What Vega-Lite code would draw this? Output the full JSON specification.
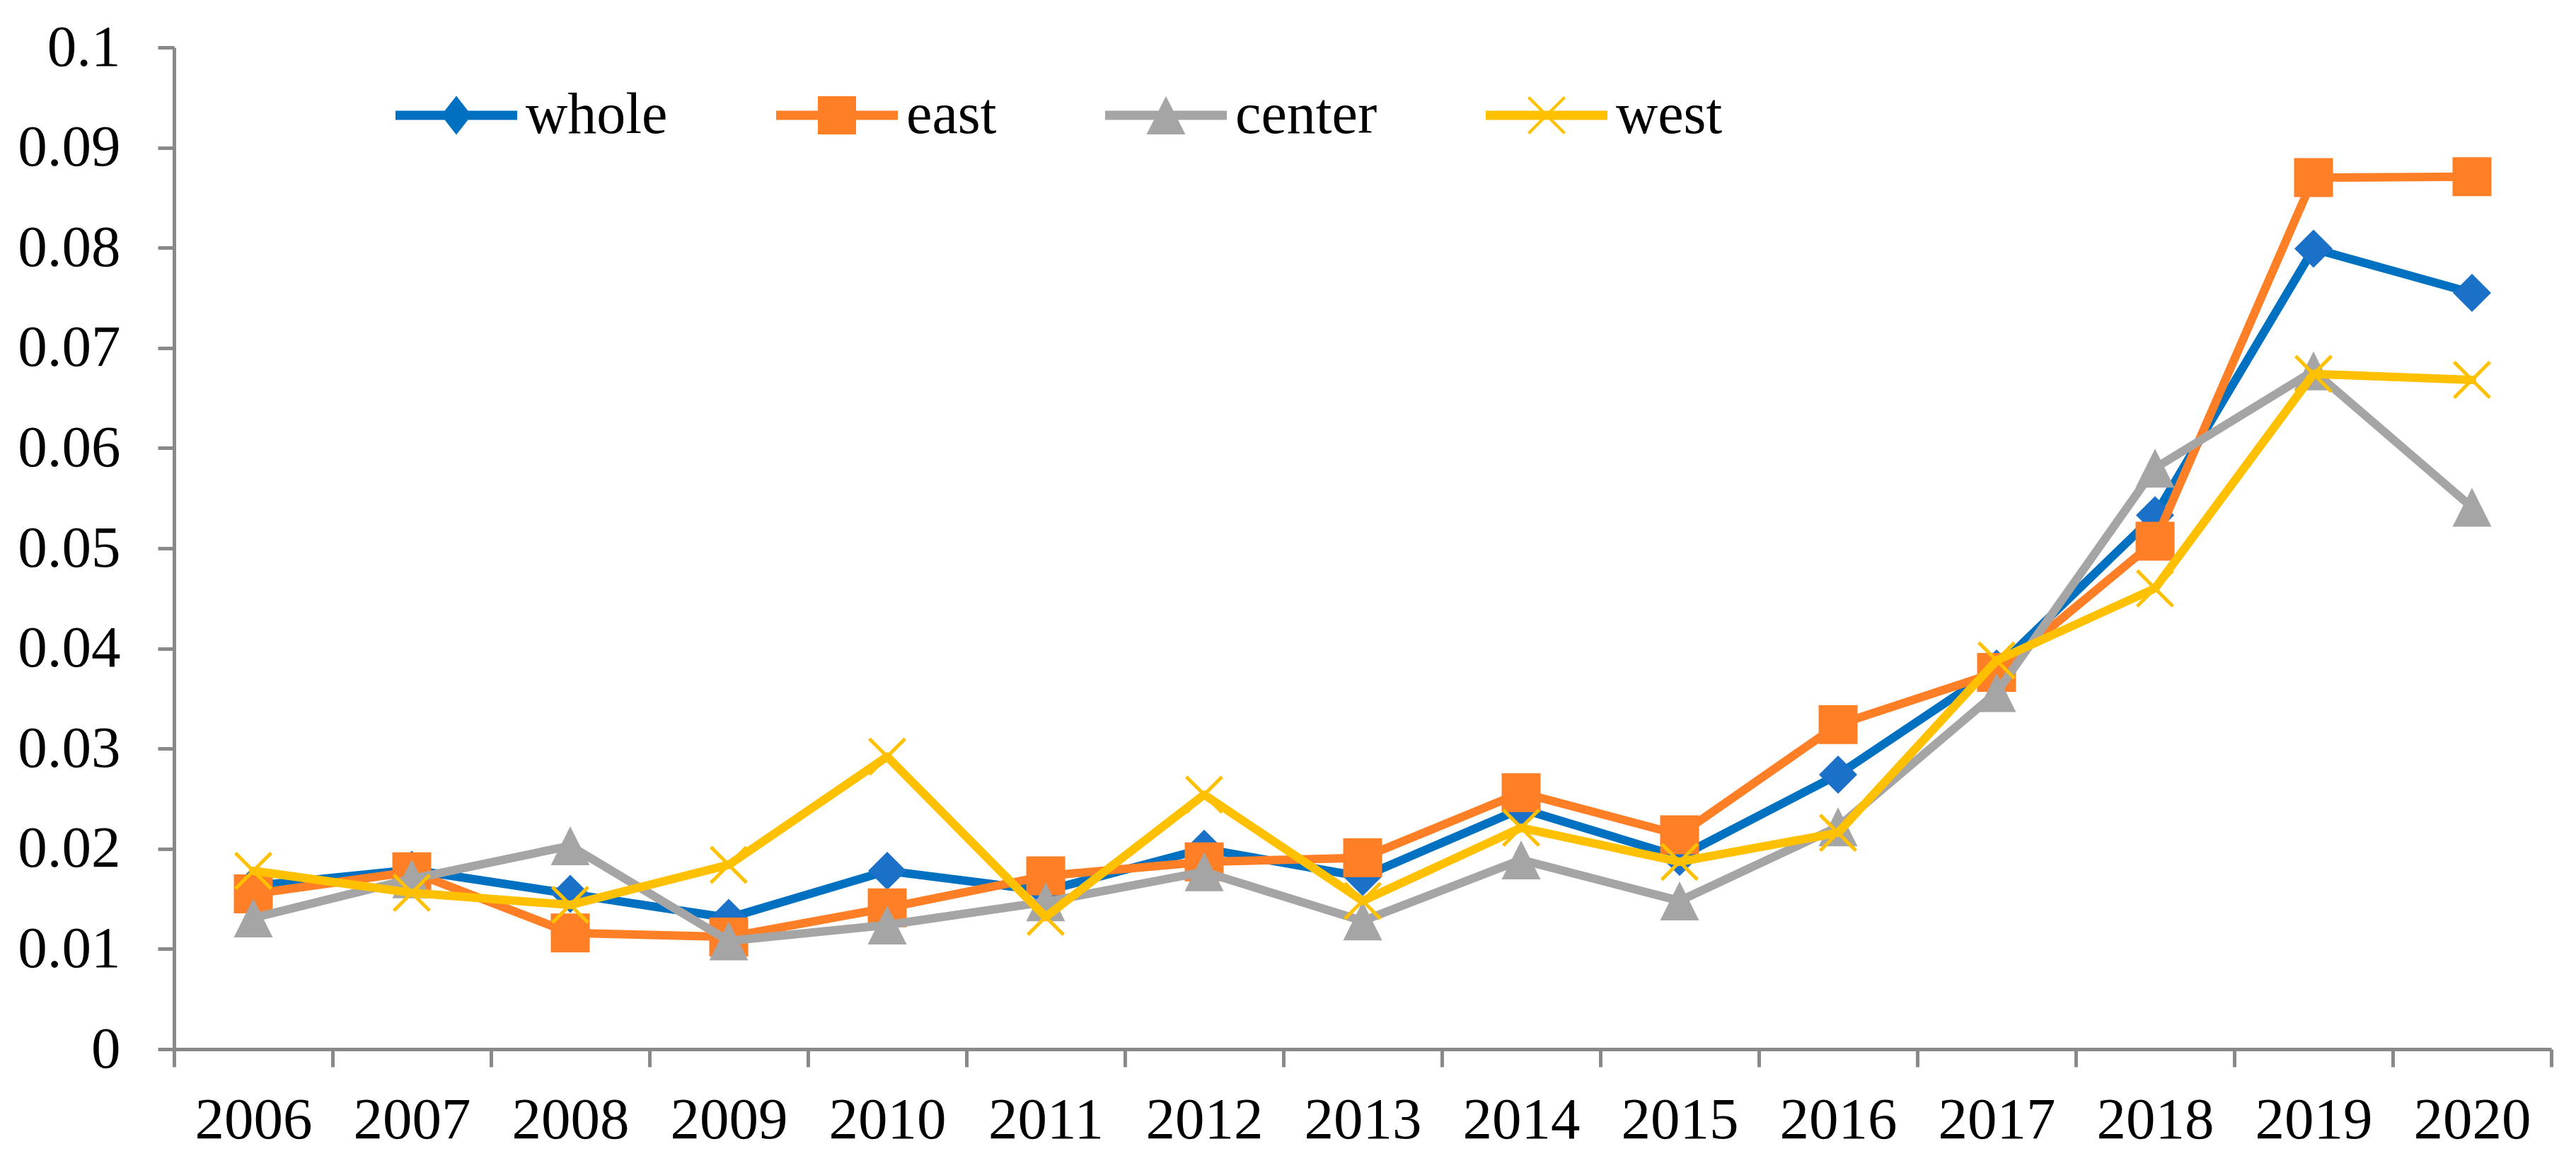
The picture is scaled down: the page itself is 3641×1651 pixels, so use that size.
{
  "$schema": "https://vega.github.io/schema/vega-lite/v6.json",
  "width": 3360,
  "height": 1416,
  "autosize": {"type": "none"},
  "padding": {"left": 246, "top": 67, "right": 35, "bottom": 168},
  "background": "white",
  "config": {
    "view": {"stroke": null},
    "axis": {
      "domainColor": "#898989",
      "tickColor": "#898989",
      "domainWidth": 5,
      "tickWidth": 5,
      "grid": false,
      "labelFont": "Liberation Serif",
      "labelFontSize": 83,
      "labelColor": "#000000",
      "title": null
    }
  },
  "data": {
    "values": [
      {"year": 2006, "region": "whole", "value": 0.0163},
      {"year": 2007, "region": "whole", "value": 0.0179},
      {"year": 2008, "region": "whole", "value": 0.0155},
      {"year": 2009, "region": "whole", "value": 0.0131},
      {"year": 2010, "region": "whole", "value": 0.0178},
      {"year": 2011, "region": "whole", "value": 0.0158},
      {"year": 2012, "region": "whole", "value": 0.0200},
      {"year": 2013, "region": "whole", "value": 0.0172},
      {"year": 2014, "region": "whole", "value": 0.0240},
      {"year": 2015, "region": "whole", "value": 0.0192},
      {"year": 2016, "region": "whole", "value": 0.0274},
      {"year": 2017, "region": "whole", "value": 0.0380},
      {"year": 2018, "region": "whole", "value": 0.0533},
      {"year": 2019, "region": "whole", "value": 0.0799},
      {"year": 2020, "region": "whole", "value": 0.0755},
      {"year": 2006, "region": "east", "value": 0.0155},
      {"year": 2007, "region": "east", "value": 0.0177},
      {"year": 2008, "region": "east", "value": 0.0116},
      {"year": 2009, "region": "east", "value": 0.0112},
      {"year": 2010, "region": "east", "value": 0.0141},
      {"year": 2011, "region": "east", "value": 0.0173},
      {"year": 2012, "region": "east", "value": 0.0187},
      {"year": 2013, "region": "east", "value": 0.0191},
      {"year": 2014, "region": "east", "value": 0.0256},
      {"year": 2015, "region": "east", "value": 0.0214},
      {"year": 2016, "region": "east", "value": 0.0324},
      {"year": 2017, "region": "east", "value": 0.0376},
      {"year": 2018, "region": "east", "value": 0.0507},
      {"year": 2019, "region": "east", "value": 0.0870},
      {"year": 2020, "region": "east", "value": 0.0871},
      {"year": 2006, "region": "center", "value": 0.0131},
      {"year": 2007, "region": "center", "value": 0.0170},
      {"year": 2008, "region": "center", "value": 0.0203},
      {"year": 2009, "region": "center", "value": 0.0108},
      {"year": 2010, "region": "center", "value": 0.0124},
      {"year": 2011, "region": "center", "value": 0.0147},
      {"year": 2012, "region": "center", "value": 0.0177},
      {"year": 2013, "region": "center", "value": 0.0128},
      {"year": 2014, "region": "center", "value": 0.0189},
      {"year": 2015, "region": "center", "value": 0.0148},
      {"year": 2016, "region": "center", "value": 0.0222},
      {"year": 2017, "region": "center", "value": 0.0356},
      {"year": 2018, "region": "center", "value": 0.0580},
      {"year": 2019, "region": "center", "value": 0.0677},
      {"year": 2020, "region": "center", "value": 0.0541},
      {"year": 2006, "region": "west", "value": 0.0178},
      {"year": 2007, "region": "west", "value": 0.0156},
      {"year": 2008, "region": "west", "value": 0.0144},
      {"year": 2009, "region": "west", "value": 0.0184},
      {"year": 2010, "region": "west", "value": 0.0292},
      {"year": 2011, "region": "west", "value": 0.0132},
      {"year": 2012, "region": "west", "value": 0.0254},
      {"year": 2013, "region": "west", "value": 0.0148},
      {"year": 2014, "region": "west", "value": 0.0221},
      {"year": 2015, "region": "west", "value": 0.0187},
      {"year": 2016, "region": "west", "value": 0.0216},
      {"year": 2017, "region": "west", "value": 0.0388},
      {"year": 2018, "region": "west", "value": 0.0460},
      {"year": 2019, "region": "west", "value": 0.0674},
      {"year": 2020, "region": "west", "value": 0.0668}
    ]
  },
  "encoding": {
    "x": {
      "field": "year",
      "type": "ordinal",
      "bandPosition": 0.5,
      "scale": {"type": "band", "paddingInner": 0, "paddingOuter": 0},
      "axis": {"tickBand": "extent", "tickSize": 25, "labelPadding": 34, "labelAngle": 0}
    },
    "y": {
      "field": "value",
      "type": "quantitative",
      "scale": {"domain": [0, 0.1], "nice": false, "zero": true},
      "axis": {
        "values": [0, 0.01, 0.02, 0.03, 0.04, 0.05, 0.06, 0.07, 0.08, 0.09, 0.1],
        "format": "~g",
        "tickSize": 23,
        "labelPadding": 53
      }
    }
  },
  "layer": [
    {
      "transform": [{"filter": "datum.region === 'whole'"}],
      "mark": {"type": "line", "strokeWidth": 12, "strokeJoin": "round", "strokeCap": "round"},
      "encoding": {
        "color": {
          "field": "region",
          "type": "nominal",
          "scale": {"domain": ["whole", "east", "center", "west"], "range": ["#0070C0", "#FF7F27", "#A5A5A5", "#FFC000"]},
          "legend": {
            "title": null,
            "orient": "none",
            "legendX": 313,
            "legendY": 10,
            "direction": "horizontal",
            "columns": 4,
            "columnPadding": 153,
            "symbolSize": 29584,
            "symbolStrokeWidth": 0,
            "labelOffset": 12,
            "labelFont": "Liberation Serif",
            "labelFontSize": 82,
            "labelColor": "#000000",
            "labelLimit": 0,
            "padding": 0,
            "encode": {
              "symbols": {
                "update": {
                  "shape": {"signal": "datum.value === 'whole' ? 'M-1,-0.075L1,-0.075L1,0.075L-1,0.075Z M0,-0.32L0.25,0L0,0.32L-0.25,0Z' : datum.value === 'east' ? 'M-1,-0.075L1,-0.075L1,0.075L-1,0.075Z M-0.314,-0.314L0.314,-0.314L0.314,0.314L-0.314,0.314Z' : datum.value === 'center' ? 'M-1,-0.075L1,-0.075L1,0.075L-1,0.075Z M0,-0.314L0.32,0.314L-0.32,0.314Z' : 'M-1,-0.075L1,-0.075L1,0.075L-1,0.075Z M-0.314,-0.28L-0.28,-0.314L0.314,0.28L0.28,0.314Z M0.28,-0.314L0.314,-0.28L-0.28,0.314L-0.314,0.28Z'"},
                  "fill": {"signal": "scale('color', datum.value)"},
                  "stroke": {"value": "transparent"},
                  "strokeWidth": {"value": 0},
                  "opacity": {"value": 1}
                }
              }
            }
          }
        }
      }
    },
    {
      "transform": [{"filter": "datum.region === 'whole'"}],
      "mark": {"type": "point", "shape": "M0,-1L1,0L0,1L-1,0Z", "filled": true, "fill": "#1B71C7", "size": 2916, "strokeWidth": 0, "opacity": 1}
    },
    {
      "transform": [{"filter": "datum.region === 'east'"}],
      "mark": {"type": "line", "strokeWidth": 12, "strokeJoin": "round", "strokeCap": "round"},
      "encoding": {"color": {"field": "region", "type": "nominal", "scale": {"domain": ["whole", "east", "center", "west"], "range": ["#0070C0", "#FF7F27", "#A5A5A5", "#FFC000"]}}}
    },
    {
      "transform": [{"filter": "datum.region === 'east'"}],
      "mark": {"type": "point", "shape": "square", "filled": true, "fill": "#FF7F27", "size": 3025, "strokeWidth": 0, "opacity": 1}
    },
    {
      "transform": [{"filter": "datum.region === 'center'"}],
      "mark": {"type": "line", "strokeWidth": 12, "strokeJoin": "round", "strokeCap": "round"},
      "encoding": {"color": {"field": "region", "type": "nominal", "scale": {"domain": ["whole", "east", "center", "west"], "range": ["#0070C0", "#FF7F27", "#A5A5A5", "#FFC000"]}}}
    },
    {
      "transform": [{"filter": "datum.region === 'center'"}],
      "mark": {"type": "point", "shape": "M0,-1L1,1L-1,1Z", "filled": true, "fill": "#A5A5A5", "size": 3025, "strokeWidth": 0, "opacity": 1}
    },
    {
      "transform": [{"filter": "datum.region === 'west'"}],
      "mark": {"type": "line", "strokeWidth": 12, "strokeJoin": "round", "strokeCap": "round"},
      "encoding": {"color": {"field": "region", "type": "nominal", "scale": {"domain": ["whole", "east", "center", "west"], "range": ["#0070C0", "#FF7F27", "#A5A5A5", "#FFC000"]}}}
    },
    {
      "transform": [{"filter": "datum.region === 'west'"}],
      "mark": {"type": "point", "shape": "M-1,-0.87L-0.87,-1L1,0.87L0.87,1Z M0.87,-1L1,-0.87L-0.87,1L-1,0.87Z", "filled": true, "fill": "#FFC000", "size": 2916, "strokeWidth": 0, "opacity": 1}
    }
  ]
}
